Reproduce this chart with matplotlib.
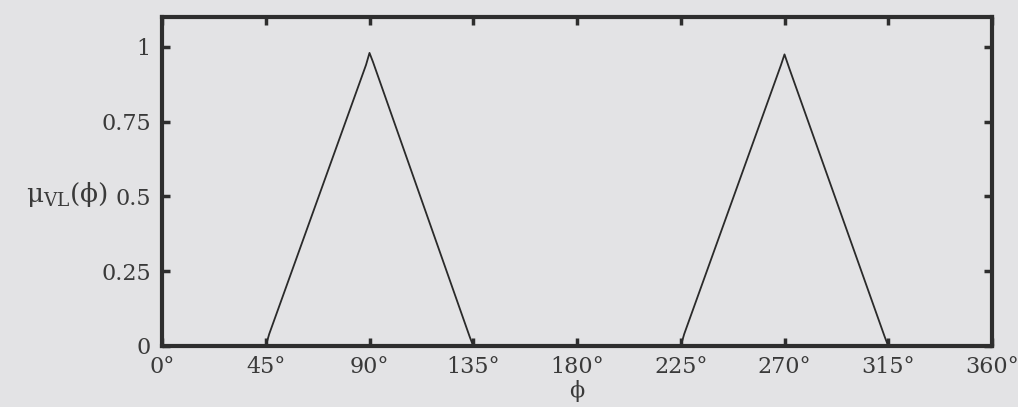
import matplotlib
matplotlib.use("Agg")
import matplotlib.pyplot as plt

phi = [0, 45, 46.5, 88.5, 90, 91.5, 133.5, 135, 225, 226.5, 268.5, 270, 272, 313.5, 315, 360]
mu = [0, 0, 0.04, 0.94, 0.98, 0.95, 0.03, 0, 0, 0.04, 0.94, 0.975, 0.93, 0.03, 0, 0]

xticks = [0, 45, 90, 135, 180, 225, 270, 315, 360]
xticklabels = [f"{v}°" for v in xticks]
yticks = [0, 0.25, 0.5, 0.75, 1]
yticklabels = ["0", "0.25", "0.5", "0.75", "1"]

plt.rcParams['font.family'] = ['DejaVu Serif']
plt.rcParams['mathtext.fontset'] = 'dejavuserif'

bg = '#e3e3e5'
fg = '#2e2e2e'
fig = plt.figure(figsize=(10.18, 4.07), dpi=100, facecolor=bg)
ax = fig.add_axes([162/1018, 1-346/407, (992-162)/1018, (346-17)/407])
ax.set_facecolor(bg)
ax.plot(phi, mu, color='#2a2a2a', lw=1.3)
ax.set_xlim(0, 360)
ax.set_ylim(0, 1.1)
ax.set_xticks(xticks)
ax.set_xticklabels(xticklabels)
ax.set_yticks(yticks)
ax.set_yticklabels(yticklabels)
ax.tick_params(direction='in', length=6, width=2.5, color=fg, labelsize=16,
               labelcolor='#3a3a3a', top=True, right=True, pad=8)
ax.tick_params(axis='x', pad=7)
for s in ax.spines.values():
    s.set_linewidth(3)
    s.set_color(fg)
ax.set_xlabel(r"$\mathrm{ϕ}$", fontsize=16, color='#3a3a3a', labelpad=0)
fig.text(108/1018, 1-194/407, r"$\mathrm{μ}_{\mathrm{VL}}\mathrm{(ϕ)}$", ha='right', va='center',
         fontsize=19, color='#3a3a3a')
fig.savefig("out.png", dpi=100, facecolor=bg)
